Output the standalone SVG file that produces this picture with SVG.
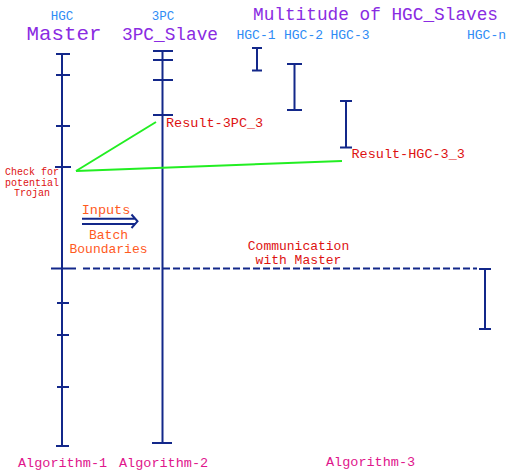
<svg xmlns="http://www.w3.org/2000/svg" width="512" height="474" viewBox="0 0 512 474">
<style>
text{font-family:"Liberation Mono","Courier New",monospace;}
.ln{stroke:#13288a;stroke-width:2;fill:none;}
.blue{fill:#2f8cf5;}
.purple{fill:#8a2be2;}
.red{fill:#dd1111;}
.orange{fill:#ff5a1e;}
.mag{fill:#e0168c;}
.green{stroke:#22ee22;stroke-width:2;fill:none;}
</style>
<rect width="512" height="474" fill="#ffffff"/>
<g id="titles">
<text class="blue" x="62" y="20" text-anchor="middle" font-size="12.5">HGC</text>
<text class="blue" x="163" y="20" text-anchor="middle" font-size="12.5">3PC</text>
<text class="purple" x="64" y="40" text-anchor="middle" font-size="20.8">Master</text>
<text class="purple" x="170" y="40" text-anchor="middle" font-size="17.8">3PC_Slave</text>
<text class="purple" x="375.5" y="20" text-anchor="middle" font-size="17.75">Multitude of HGC_Slaves</text>
<text class="blue" x="236.5" y="39" font-size="13">HGC-1</text>
<text class="blue" x="284" y="39" font-size="13">HGC-2</text>
<text class="blue" x="330.5" y="39" font-size="13">HGC-3</text>
<text class="blue" x="467" y="39" font-size="13">HGC-n</text>
</g>
<g id="master">
<line class="ln" x1="62" y1="54" x2="62" y2="446"/>
<path class="ln" d="M56 54H70M56 75H70M56 126H70M55 167H71M57 303H69M57 335H69M57 387H69M56 446H69"/>
</g>
<g id="slave3pc">
<line class="ln" x1="162.5" y1="51" x2="162.5" y2="443"/>
<path class="ln" d="M153 60H173M153 80H173M153 115H173M152 443H172"/>
<line class="ln" x1="153" y1="51" x2="173" y2="51" stroke-width="3"/>
</g>
<g id="hgc1"><path class="ln" d="M257 48V70.5M252 48H262M252 70.5H262"/></g>
<g id="hgc2"><path class="ln" d="M294.5 64V110M287 64H302M287 110H302"/></g>
<g id="hgc3"><path class="ln" d="M346 101V147.5M340 101H352M340 147.5H352"/></g>
<g id="hgcn"><path class="ln" d="M485 269V329M479 269H491M479 329H491"/></g>
<g id="connectors">
<line class="green" x1="76" y1="171" x2="156" y2="122"/>
<line class="green" x1="76" y1="171" x2="342" y2="161"/>
<line class="ln" x1="51" y1="268.5" x2="76" y2="268.5"/>
<line class="ln" x1="83" y1="268.5" x2="477" y2="268.5" stroke-dasharray="7 3"/>
<path class="ln" d="M82 218.7H135M82 224H135M131.5 214.5L137.5 221.3L131.5 228"/>
</g>
<g id="labels">
<text class="red" x="166" y="127" font-size="13.5">Result-3PC_3</text>
<text class="red" x="351.5" y="158" font-size="13.5">Result-HGC-3_3</text>
<text class="red" x="32" y="175" text-anchor="middle" font-size="10">Check for</text>
<text class="red" x="32" y="185.5" text-anchor="middle" font-size="10">potential</text>
<text class="red" x="32" y="196" text-anchor="middle" font-size="10">Trojan</text>
<text class="orange" x="106" y="214" text-anchor="middle" font-size="13.5">Inputs</text>
<text class="orange" x="108.5" y="238.5" text-anchor="middle" font-size="13">Batch</text>
<text class="orange" x="108.5" y="252.5" text-anchor="middle" font-size="13">Boundaries</text>
<text class="red" x="298.5" y="249.5" text-anchor="middle" font-size="13">Communication</text>
<text class="red" x="298.5" y="263.5" text-anchor="middle" font-size="13">with Master</text>
<text class="mag" x="18" y="467" font-size="13.5">Algorithm-1</text>
<text class="mag" x="119" y="467" font-size="13.5">Algorithm-2</text>
<text class="mag" x="326" y="466" font-size="13.5">Algorithm-3</text>
</g>
</svg>
